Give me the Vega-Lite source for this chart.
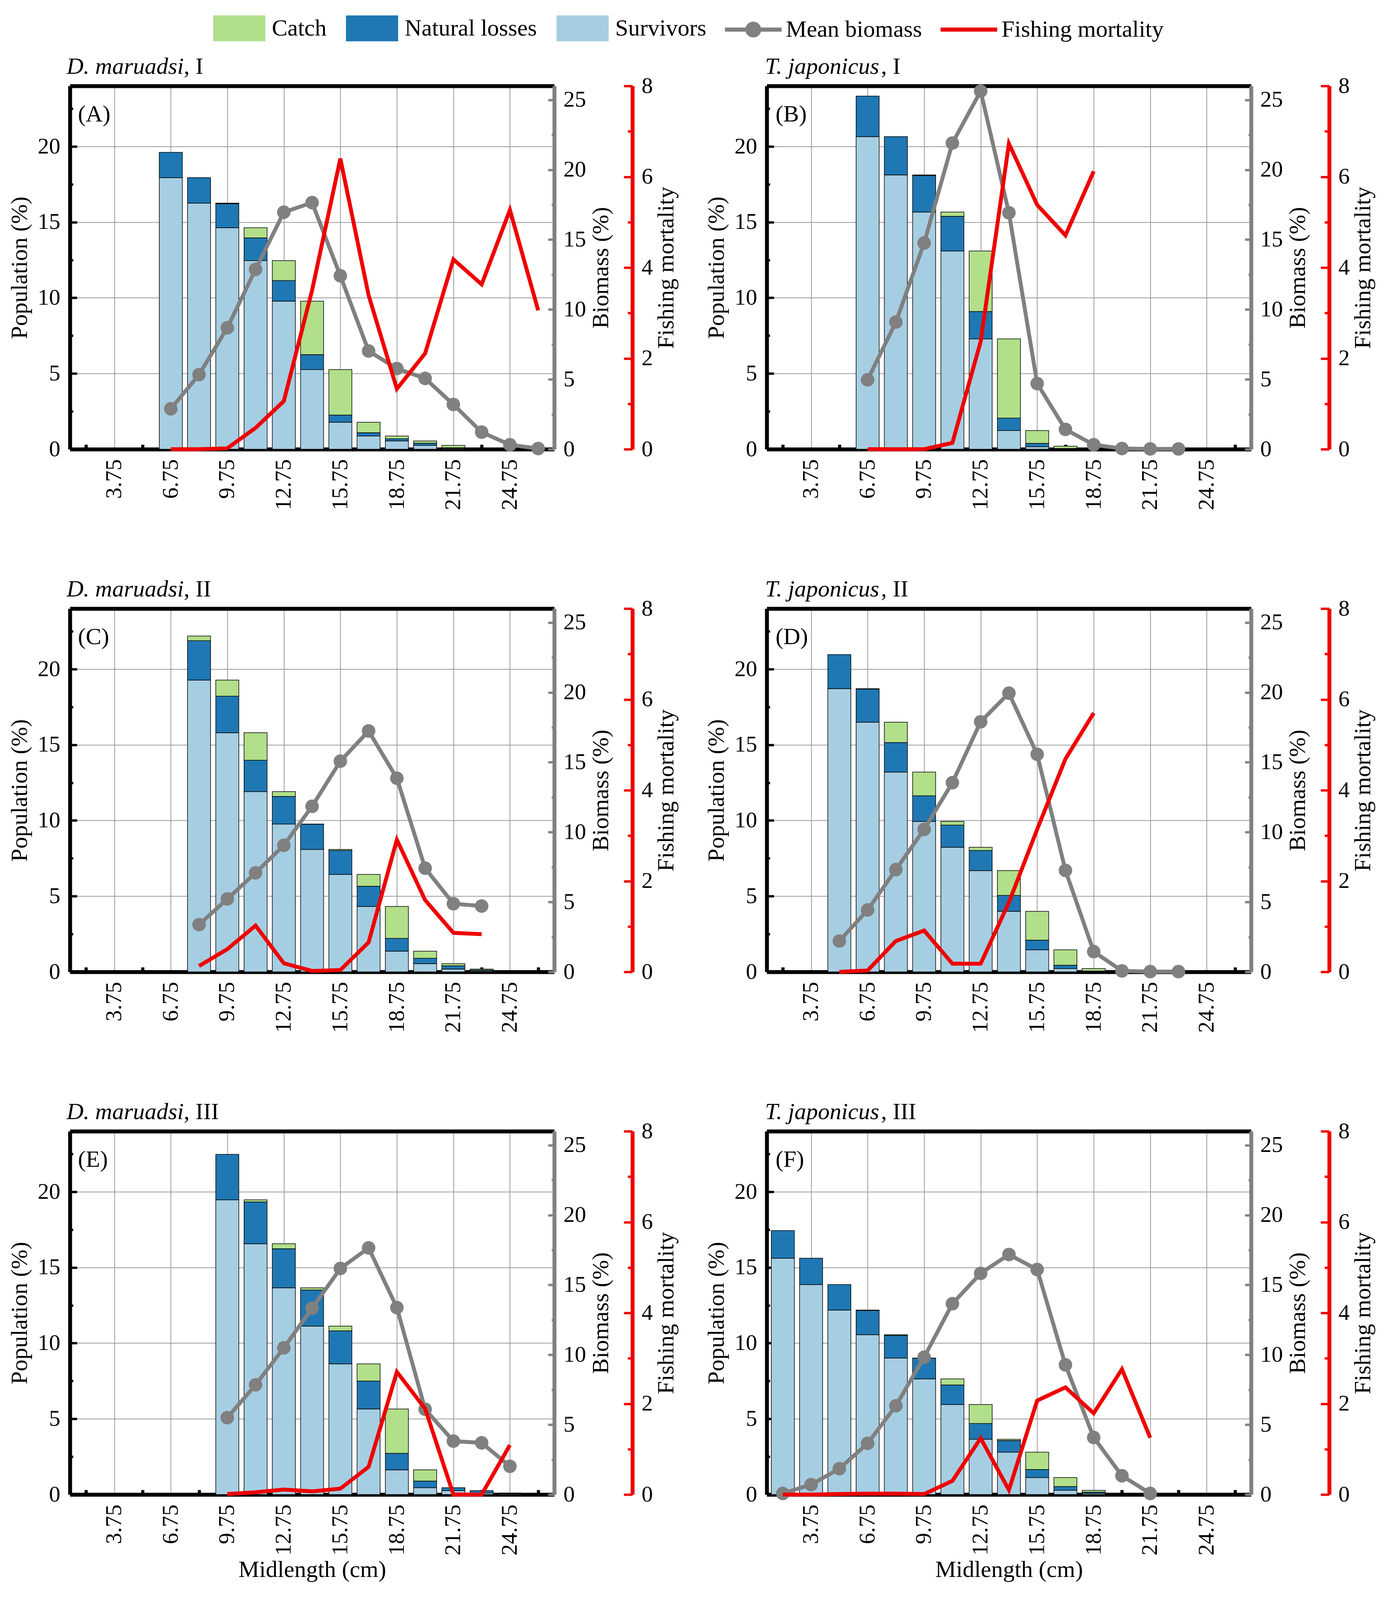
{
  "$schema": "https://vega.github.io/schema/vega-lite/v6.json",
  "background": "white",
  "padding": {"left": 20, "top": 0, "right": 5, "bottom": 5},
  "data": {
    "values": [
      {"p": "A", "L": 6.75, "Survivors": 17.94, "Natural losses": 1.67, "Catch": 0, "bio": 2.89, "F": 0},
      {"p": "A", "L": 8.25, "Survivors": 16.26, "Natural losses": 1.68, "Catch": 0, "bio": 5.34, "F": 0},
      {"p": "A", "L": 9.75, "Survivors": 14.63, "Natural losses": 1.59, "Catch": 0.04, "bio": 8.69, "F": 0.02},
      {"p": "A", "L": 11.25, "Survivors": 12.46, "Natural losses": 1.5, "Catch": 0.67, "bio": 12.87, "F": 0.47},
      {"p": "A", "L": 12.75, "Survivors": 9.78, "Natural losses": 1.36, "Catch": 1.32, "bio": 16.96, "F": 1.06},
      {"p": "A", "L": 14.25, "Survivors": 5.26, "Natural losses": 0.99, "Catch": 3.53, "bio": 17.65, "F": 3.5},
      {"p": "A", "L": 15.75, "Survivors": 1.78, "Natural losses": 0.48, "Catch": 3.0, "bio": 12.41, "F": 6.4},
      {"p": "A", "L": 17.25, "Survivors": 0.87, "Natural losses": 0.22, "Catch": 0.69, "bio": 7.03, "F": 3.39},
      {"p": "A", "L": 18.75, "Survivors": 0.55, "Natural losses": 0.14, "Catch": 0.18, "bio": 5.77, "F": 1.33},
      {"p": "A", "L": 20.25, "Survivors": 0.25, "Natural losses": 0.15, "Catch": 0.15, "bio": 5.07, "F": 2.11},
      {"p": "A", "L": 21.75, "Survivors": 0.06, "Natural losses": 0.04, "Catch": 0.15, "bio": 3.2, "F": 4.18},
      {"p": "A", "L": 23.25, "bio": 1.22, "F": 3.63},
      {"p": "A", "L": 24.75, "bio": 0.32, "F": 5.27},
      {"p": "A", "L": 26.25, "bio": 0.05, "F": 3.06},
      {"p": "B", "L": 6.75, "Survivors": 20.65, "Natural losses": 2.68, "Catch": 0, "bio": 4.97, "F": 0},
      {"p": "B", "L": 8.25, "Survivors": 18.12, "Natural losses": 2.53, "Catch": 0, "bio": 9.1, "F": 0},
      {"p": "B", "L": 9.75, "Survivors": 15.67, "Natural losses": 2.41, "Catch": 0.04, "bio": 14.76, "F": 0},
      {"p": "B", "L": 11.25, "Survivors": 13.1, "Natural losses": 2.29, "Catch": 0.28, "bio": 21.91, "F": 0.14},
      {"p": "B", "L": 12.75, "Survivors": 7.29, "Natural losses": 1.81, "Catch": 4.0, "bio": 25.63, "F": 2.37},
      {"p": "B", "L": 14.25, "Survivors": 1.23, "Natural losses": 0.83, "Catch": 5.23, "bio": 16.92, "F": 6.73},
      {"p": "B", "L": 15.75, "Survivors": 0.17, "Natural losses": 0.22, "Catch": 0.84, "bio": 4.7, "F": 5.38},
      {"p": "B", "L": 17.25, "Survivors": 0.02, "Natural losses": 0.03, "Catch": 0.15, "bio": 1.42, "F": 4.71},
      {"p": "B", "L": 18.75, "bio": 0.32, "F": 6.12},
      {"p": "B", "L": 20.25, "bio": 0.05},
      {"p": "B", "L": 21.75, "bio": 0.02},
      {"p": "B", "L": 23.25, "bio": 0.02},
      {"p": "C", "L": 8.25, "Survivors": 19.28, "Natural losses": 2.6, "Catch": 0.31, "bio": 3.38, "F": 0.13},
      {"p": "C", "L": 9.75, "Survivors": 15.8, "Natural losses": 2.41, "Catch": 1.07, "bio": 5.22, "F": 0.5},
      {"p": "C", "L": 11.25, "Survivors": 11.91, "Natural losses": 2.07, "Catch": 1.82, "bio": 7.09, "F": 1.02},
      {"p": "C", "L": 12.75, "Survivors": 9.77, "Natural losses": 1.82, "Catch": 0.32, "bio": 9.06, "F": 0.19},
      {"p": "C", "L": 14.25, "Survivors": 8.09, "Natural losses": 1.66, "Catch": 0.02, "bio": 11.85, "F": 0.02},
      {"p": "C", "L": 15.75, "Survivors": 6.44, "Natural losses": 1.58, "Catch": 0.07, "bio": 15.08, "F": 0.04},
      {"p": "C", "L": 17.25, "Survivors": 4.32, "Natural losses": 1.34, "Catch": 0.78, "bio": 17.24, "F": 0.65},
      {"p": "C", "L": 18.75, "Survivors": 1.37, "Natural losses": 0.84, "Catch": 2.11, "bio": 13.86, "F": 2.91},
      {"p": "C", "L": 20.25, "Survivors": 0.54, "Natural losses": 0.36, "Catch": 0.47, "bio": 7.42, "F": 1.58},
      {"p": "C", "L": 21.75, "Survivors": 0.19, "Natural losses": 0.21, "Catch": 0.14, "bio": 4.88, "F": 0.86},
      {"p": "C", "L": 23.25, "Survivors": 0.06, "Natural losses": 0.06, "Catch": 0.07, "bio": 4.71, "F": 0.83},
      {"p": "D", "L": 5.25, "Survivors": 18.71, "Natural losses": 2.25, "Catch": 0, "bio": 2.21, "F": 0},
      {"p": "D", "L": 6.75, "Survivors": 16.5, "Natural losses": 2.18, "Catch": 0.03, "bio": 4.43, "F": 0.03},
      {"p": "D", "L": 8.25, "Survivors": 13.2, "Natural losses": 1.95, "Catch": 1.35, "bio": 7.32, "F": 0.68},
      {"p": "D", "L": 9.75, "Survivors": 9.94, "Natural losses": 1.69, "Catch": 1.57, "bio": 10.2, "F": 0.91},
      {"p": "D", "L": 11.25, "Survivors": 8.23, "Natural losses": 1.47, "Catch": 0.24, "bio": 13.54, "F": 0.18},
      {"p": "D", "L": 12.75, "Survivors": 6.69, "Natural losses": 1.33, "Catch": 0.21, "bio": 17.9, "F": 0.18},
      {"p": "D", "L": 14.25, "Survivors": 4.0, "Natural losses": 1.05, "Catch": 1.64, "bio": 19.95, "F": 1.53},
      {"p": "D", "L": 15.75, "Survivors": 1.46, "Natural losses": 0.64, "Catch": 1.9, "bio": 15.57, "F": 3.14},
      {"p": "D", "L": 17.25, "Survivors": 0.22, "Natural losses": 0.22, "Catch": 1.02, "bio": 7.26, "F": 4.69},
      {"p": "D", "L": 18.75, "Survivors": 0.03, "Natural losses": 0.03, "Catch": 0.16, "bio": 1.45, "F": 5.7},
      {"p": "D", "L": 20.25, "bio": 0.07},
      {"p": "D", "L": 21.75, "bio": 0.02},
      {"p": "D", "L": 23.25, "bio": 0.02},
      {"p": "E", "L": 9.75, "Survivors": 19.47, "Natural losses": 3.0, "Catch": 0, "bio": 5.5, "F": 0.01},
      {"p": "E", "L": 11.25, "Survivors": 16.57, "Natural losses": 2.76, "Catch": 0.14, "bio": 7.85, "F": 0.05},
      {"p": "E", "L": 12.75, "Survivors": 13.66, "Natural losses": 2.58, "Catch": 0.33, "bio": 10.5, "F": 0.11},
      {"p": "E", "L": 14.25, "Survivors": 11.13, "Natural losses": 2.38, "Catch": 0.15, "bio": 13.33, "F": 0.07},
      {"p": "E", "L": 15.75, "Survivors": 8.63, "Natural losses": 2.18, "Catch": 0.32, "bio": 16.18, "F": 0.13},
      {"p": "E", "L": 17.25, "Survivors": 5.65, "Natural losses": 1.85, "Catch": 1.13, "bio": 17.65, "F": 0.61},
      {"p": "E", "L": 18.75, "Survivors": 1.63, "Natural losses": 1.09, "Catch": 2.93, "bio": 13.38, "F": 2.7},
      {"p": "E", "L": 20.25, "Survivors": 0.45, "Natural losses": 0.44, "Catch": 0.74, "bio": 6.1, "F": 1.89},
      {"p": "E", "L": 21.75, "Survivors": 0.26, "Natural losses": 0.19, "Catch": 0, "bio": 3.82, "F": 0},
      {"p": "E", "L": 23.25, "Survivors": 0.1, "Natural losses": 0.16, "Catch": 0, "bio": 3.7, "F": 0},
      {"p": "E", "L": 24.75, "Survivors": 0.05, "Natural losses": 0.02, "Catch": 0.03, "bio": 2.02, "F": 1.09},
      {"p": "F", "L": 2.25, "Survivors": 15.61, "Natural losses": 1.83, "Catch": 0, "bio": 0.08, "F": 0},
      {"p": "F", "L": 3.75, "Survivors": 13.87, "Natural losses": 1.74, "Catch": 0, "bio": 0.71, "F": 0},
      {"p": "F", "L": 5.25, "Survivors": 12.19, "Natural losses": 1.68, "Catch": 0, "bio": 1.85, "F": 0.01},
      {"p": "F", "L": 6.75, "Survivors": 10.56, "Natural losses": 1.6, "Catch": 0.03, "bio": 3.66, "F": 0.02},
      {"p": "F", "L": 8.25, "Survivors": 9.02, "Natural losses": 1.49, "Catch": 0.05, "bio": 6.35, "F": 0.02},
      {"p": "F", "L": 9.75, "Survivors": 7.64, "Natural losses": 1.37, "Catch": 0.01, "bio": 9.83, "F": 0.01},
      {"p": "F", "L": 11.25, "Survivors": 5.95, "Natural losses": 1.29, "Catch": 0.4, "bio": 13.66, "F": 0.3},
      {"p": "F", "L": 12.75, "Survivors": 3.65, "Natural losses": 1.04, "Catch": 1.26, "bio": 15.83, "F": 1.24},
      {"p": "F", "L": 14.25, "Survivors": 2.8, "Natural losses": 0.77, "Catch": 0.08, "bio": 17.18, "F": 0.1},
      {"p": "F", "L": 15.75, "Survivors": 1.12, "Natural losses": 0.53, "Catch": 1.15, "bio": 16.1, "F": 2.07},
      {"p": "F", "L": 17.25, "Survivors": 0.28, "Natural losses": 0.25, "Catch": 0.59, "bio": 9.28, "F": 2.36},
      {"p": "F", "L": 18.75, "Survivors": 0.08, "Natural losses": 0.08, "Catch": 0.12, "bio": 4.08, "F": 1.79},
      {"p": "F", "L": 20.25, "bio": 1.34, "F": 2.76},
      {"p": "F", "L": 21.75, "bio": 0.08, "F": 1.25}
    ]
  },
  "columns": 2,
  "bounds": "flush",
  "spacing": {"row": 408, "column": 544},
  "concat": [
    {
      "width": 1240, "height": 930,
      "transform": [{"filter": "datum.p === 'A'"}],
      "layer": [
        {
          "transform": [{"fold": ["Survivors", "Natural losses", "Catch"], "as": ["part", "pct"]}, {"filter": "isValid(datum.pct) && datum.pct > 0"}],
          "mark": {"type": "bar", "width": 59, "stroke": "black", "strokeWidth": 1.5},
          "encoding": {
            "x": {"field": "L", "type": "quantitative", "scale": {"domain": [1.5, 27], "nice": false, "zero": false}, "axis": {"values": [2.25, 3.75, 5.25, 6.75, 8.25, 9.75, 11.25, 12.75, 14.25, 15.75, 17.25, 18.75, 20.25, 21.75, 23.25, 24.75, 26.25], "labelExpr": "(datum.value - 0.75) % 3 === 0 ? format(datum.value, '.2f') : ''", "labelAngle": 270, "labelPadding": 37, "domainColor": "black", "domainWidth": 10, "tickColor": "black", "tickWidth": 8, "tickSize": -12, "tickOpacity": {"condition": {"test": "(datum.value - 0.75) % 3 === 0", "value": 0}, "value": 1}, "grid": true, "gridColor": "#9a9a9a", "gridWidth": 2, "gridOpacity": {"condition": {"test": "(datum.value - 0.75) % 3 === 0", "value": 1}, "value": 0}, "title": null}},
            "y": {"field": "pct", "type": "quantitative", "stack": "zero", "scale": {"domain": [0, 24], "nice": false}, "axis": {"values": [0, 2.5, 5, 7.5, 10, 12.5, 15, 17.5, 20, 22.5], "labelExpr": "datum.value % 5 === 0 ? format(datum.value, 'd') : ''", "labelPadding": 43, "domainColor": "black", "domainWidth": 10, "tickColor": "black", "tickWidth": 6, "tickSize": {"condition": {"test": "datum.value % 5 === 0", "value": -18}, "value": -8}, "grid": true, "gridColor": "#9a9a9a", "gridWidth": 2, "gridOpacity": {"condition": {"test": "datum.value % 5 === 0 && datum.value > 0", "value": 1}, "value": 0}, "title": "Population (%)", "titlePadding": 15}},
            "color": {
              "field": "part", "type": "nominal",
              "scale": {"domain": ["Catch", "Natural losses", "Survivors", "Mean biomass", "Fishing mortality"], "range": ["#b2df8a", "#1f78b4", "#a6cee3", "#808080", "#ee0000"]},
              "legend": {
                "title": null,
                "encoding": {
                  "symbols": {
                    "shape": {"value": {"expr": "datum.value === 'Mean biomass' ? 'M-1,-0.06H1V0.06H-1ZM-0.27,0A0.27,0.27,0,1,1,0.27,0A0.27,0.27,0,1,1,-0.27,0Z' : datum.value === 'Fishing mortality' ? 'M-1,-0.06H1V0.06H-1Z' : 'M-0.92,-0.45H0.92V0.45H-0.92Z'"}},
                    "fill": {"value": {"expr": "datum.value === 'Catch' ? '#b2df8a' : datum.value === 'Natural losses' ? '#1f78b4' : datum.value === 'Survivors' ? '#a6cee3' : datum.value === 'Mean biomass' ? '#808080' : '#ee0000'"}},
                    "stroke": {"value": {"expr": "datum.value === 'Mean biomass' ? '#808080' : datum.value === 'Fishing mortality' ? '#ee0000' : 'black'"}}
                  }
                }
              }
            },
            "order": {"field": "part", "type": "nominal", "sort": "descending"}
          }
        },
        {
          "transform": [{"filter": "isValid(datum.bio)"}],
          "mark": {"type": "line", "strokeWidth": 10},
          "encoding": {
            "x": {"field": "L", "type": "quantitative", "axis": {"orient": "top", "domain": true, "domainColor": "black", "domainWidth": 10, "ticks": false, "labels": false, "grid": false, "title": "D. maruadsi", "titleFontStyle": "italic", "titleX": -9, "titleY": -32, "titleAlign": "left", "titleBaseline": "alphabetic", "titleAngle": 0}},
            "y": {"field": "bio", "type": "quantitative", "scale": {"domain": [0, 26], "nice": false}, "axis": {"orient": "right", "values": [0, 2.5, 5, 7.5, 10, 12.5, 15, 17.5, 20, 22.5, 25], "labelExpr": "datum.value % 5 === 0 ? format(datum.value, 'd') : ''", "labelPadding": 39, "domainColor": "#808080", "domainWidth": 10, "tickColor": "#808080", "tickWidth": 6, "tickSize": {"condition": {"test": "datum.value % 5 === 0", "value": -16}, "value": -7}, "grid": false, "title": "Biomass (%)", "titleAngle": 270, "titleBaseline": "top", "titlePadding": 9}},
            "color": {"datum": "Mean biomass", "type": "nominal"}
          }
        },
        {
          "transform": [{"filter": "isValid(datum.bio)"}],
          "mark": {"type": "circle", "size": 1200, "opacity": 1},
          "encoding": {
            "x": {"field": "L", "type": "quantitative", "axis": {"orient": "top", "domain": false, "ticks": false, "labels": false, "grid": false, "title": ", I", "titleX": 291, "titleY": -32, "titleAlign": "left", "titleBaseline": "alphabetic", "titleAngle": 0}},
            "y": {"field": "bio", "type": "quantitative", "scale": {"domain": [0, 26], "nice": false}, "axis": null},
            "color": {"datum": "Mean biomass", "type": "nominal"}
          }
        },
        {
          "transform": [{"filter": "isValid(datum.F)"}],
          "mark": {"type": "line", "strokeWidth": 10},
          "encoding": {
            "x": {"field": "L", "type": "quantitative", "axis": {"orient": "top", "domain": false, "ticks": false, "labels": false, "grid": false, "title": "(A)", "titleX": 20, "titleY": 90, "titleAlign": "left", "titleBaseline": "alphabetic", "titleAngle": 0}},
            "y": {"field": "F", "type": "quantitative", "scale": {"domain": [0, 8], "nice": false}, "axis": {"orient": "right", "offset": 200, "values": [0, 1, 2, 3, 4, 5, 6, 7, 8], "labelExpr": "datum.value % 2 === 0 ? format(datum.value, 'd') : ''", "labelPadding": 45, "domainColor": "#ee0000", "domainWidth": 10, "tickColor": "#ee0000", "tickWidth": 6, "tickSize": {"condition": {"test": "datum.value % 2 === 0", "value": -22}, "value": -12}, "grid": false, "title": "Fishing mortality", "titleAngle": 270, "titleBaseline": "top", "titlePadding": 5}},
            "color": {"datum": "Fishing mortality", "type": "nominal"}
          }
        }
      ],
      "resolve": {"scale": {"y": "independent"}, "axis": {"x": "independent"}}
    },
    {
      "width": 1240, "height": 930,
      "transform": [{"filter": "datum.p === 'B'"}],
      "layer": [
        {
          "transform": [{"fold": ["Survivors", "Natural losses", "Catch"], "as": ["part", "pct"]}, {"filter": "isValid(datum.pct) && datum.pct > 0"}],
          "mark": {"type": "bar", "width": 59, "stroke": "black", "strokeWidth": 1.5},
          "encoding": {
            "x": {"field": "L", "type": "quantitative", "scale": {"domain": [1.5, 27], "nice": false, "zero": false}, "axis": {"values": [2.25, 3.75, 5.25, 6.75, 8.25, 9.75, 11.25, 12.75, 14.25, 15.75, 17.25, 18.75, 20.25, 21.75, 23.25, 24.75, 26.25], "labelExpr": "(datum.value - 0.75) % 3 === 0 ? format(datum.value, '.2f') : ''", "labelAngle": 270, "labelPadding": 37, "domainColor": "black", "domainWidth": 10, "tickColor": "black", "tickWidth": 8, "tickSize": -12, "tickOpacity": {"condition": {"test": "(datum.value - 0.75) % 3 === 0", "value": 0}, "value": 1}, "grid": true, "gridColor": "#9a9a9a", "gridWidth": 2, "gridOpacity": {"condition": {"test": "(datum.value - 0.75) % 3 === 0", "value": 1}, "value": 0}, "title": null}},
            "y": {"field": "pct", "type": "quantitative", "stack": "zero", "scale": {"domain": [0, 24], "nice": false}, "axis": {"values": [0, 2.5, 5, 7.5, 10, 12.5, 15, 17.5, 20, 22.5], "labelExpr": "datum.value % 5 === 0 ? format(datum.value, 'd') : ''", "labelPadding": 43, "domainColor": "black", "domainWidth": 10, "tickColor": "black", "tickWidth": 6, "tickSize": {"condition": {"test": "datum.value % 5 === 0", "value": -18}, "value": -8}, "grid": true, "gridColor": "#9a9a9a", "gridWidth": 2, "gridOpacity": {"condition": {"test": "datum.value % 5 === 0 && datum.value > 0", "value": 1}, "value": 0}, "title": "Population (%)", "titlePadding": 15}},
            "color": {"field": "part", "type": "nominal"},
            "order": {"field": "part", "type": "nominal", "sort": "descending"}
          }
        },
        {
          "transform": [{"filter": "isValid(datum.bio)"}],
          "mark": {"type": "line", "strokeWidth": 10},
          "encoding": {
            "x": {"field": "L", "type": "quantitative", "axis": {"orient": "top", "domain": true, "domainColor": "black", "domainWidth": 10, "ticks": false, "labels": false, "grid": false, "title": "T. japonicus", "titleFontStyle": "italic", "titleX": -5, "titleY": -32, "titleAlign": "left", "titleBaseline": "alphabetic", "titleAngle": 0}},
            "y": {"field": "bio", "type": "quantitative", "scale": {"domain": [0, 26], "nice": false}, "axis": {"orient": "right", "values": [0, 2.5, 5, 7.5, 10, 12.5, 15, 17.5, 20, 22.5, 25], "labelExpr": "datum.value % 5 === 0 ? format(datum.value, 'd') : ''", "labelPadding": 39, "domainColor": "#808080", "domainWidth": 10, "tickColor": "#808080", "tickWidth": 6, "tickSize": {"condition": {"test": "datum.value % 5 === 0", "value": -16}, "value": -7}, "grid": false, "title": "Biomass (%)", "titleAngle": 270, "titleBaseline": "top", "titlePadding": 9}},
            "color": {"datum": "Mean biomass", "type": "nominal"}
          }
        },
        {
          "transform": [{"filter": "isValid(datum.bio)"}],
          "mark": {"type": "circle", "size": 1200, "opacity": 1},
          "encoding": {
            "x": {"field": "L", "type": "quantitative", "axis": {"orient": "top", "domain": false, "ticks": false, "labels": false, "grid": false, "title": ", I", "titleX": 292, "titleY": -32, "titleAlign": "left", "titleBaseline": "alphabetic", "titleAngle": 0}},
            "y": {"field": "bio", "type": "quantitative", "scale": {"domain": [0, 26], "nice": false}, "axis": null},
            "color": {"datum": "Mean biomass", "type": "nominal"}
          }
        },
        {
          "transform": [{"filter": "isValid(datum.F)"}],
          "mark": {"type": "line", "strokeWidth": 10},
          "encoding": {
            "x": {"field": "L", "type": "quantitative", "axis": {"orient": "top", "domain": false, "ticks": false, "labels": false, "grid": false, "title": "(B)", "titleX": 22, "titleY": 90, "titleAlign": "left", "titleBaseline": "alphabetic", "titleAngle": 0}},
            "y": {"field": "F", "type": "quantitative", "scale": {"domain": [0, 8], "nice": false}, "axis": {"orient": "right", "offset": 200, "values": [0, 1, 2, 3, 4, 5, 6, 7, 8], "labelExpr": "datum.value % 2 === 0 ? format(datum.value, 'd') : ''", "labelPadding": 45, "domainColor": "#ee0000", "domainWidth": 10, "tickColor": "#ee0000", "tickWidth": 6, "tickSize": {"condition": {"test": "datum.value % 2 === 0", "value": -22}, "value": -12}, "grid": false, "title": "Fishing mortality", "titleAngle": 270, "titleBaseline": "top", "titlePadding": 5}},
            "color": {"datum": "Fishing mortality", "type": "nominal"}
          }
        }
      ],
      "resolve": {"scale": {"y": "independent"}, "axis": {"x": "independent"}}
    },
    {
      "width": 1240, "height": 930,
      "transform": [{"filter": "datum.p === 'C'"}],
      "layer": [
        {
          "transform": [{"fold": ["Survivors", "Natural losses", "Catch"], "as": ["part", "pct"]}, {"filter": "isValid(datum.pct) && datum.pct > 0"}],
          "mark": {"type": "bar", "width": 59, "stroke": "black", "strokeWidth": 1.5},
          "encoding": {
            "x": {"field": "L", "type": "quantitative", "scale": {"domain": [1.5, 27], "nice": false, "zero": false}, "axis": {"values": [2.25, 3.75, 5.25, 6.75, 8.25, 9.75, 11.25, 12.75, 14.25, 15.75, 17.25, 18.75, 20.25, 21.75, 23.25, 24.75, 26.25], "labelExpr": "(datum.value - 0.75) % 3 === 0 ? format(datum.value, '.2f') : ''", "labelAngle": 270, "labelPadding": 37, "domainColor": "black", "domainWidth": 10, "tickColor": "black", "tickWidth": 8, "tickSize": -12, "tickOpacity": {"condition": {"test": "(datum.value - 0.75) % 3 === 0", "value": 0}, "value": 1}, "grid": true, "gridColor": "#9a9a9a", "gridWidth": 2, "gridOpacity": {"condition": {"test": "(datum.value - 0.75) % 3 === 0", "value": 1}, "value": 0}, "title": null}},
            "y": {"field": "pct", "type": "quantitative", "stack": "zero", "scale": {"domain": [0, 24], "nice": false}, "axis": {"values": [0, 2.5, 5, 7.5, 10, 12.5, 15, 17.5, 20, 22.5], "labelExpr": "datum.value % 5 === 0 ? format(datum.value, 'd') : ''", "labelPadding": 43, "domainColor": "black", "domainWidth": 10, "tickColor": "black", "tickWidth": 6, "tickSize": {"condition": {"test": "datum.value % 5 === 0", "value": -18}, "value": -8}, "grid": true, "gridColor": "#9a9a9a", "gridWidth": 2, "gridOpacity": {"condition": {"test": "datum.value % 5 === 0 && datum.value > 0", "value": 1}, "value": 0}, "title": "Population (%)", "titlePadding": 15}},
            "color": {"field": "part", "type": "nominal"},
            "order": {"field": "part", "type": "nominal", "sort": "descending"}
          }
        },
        {
          "transform": [{"filter": "isValid(datum.bio)"}],
          "mark": {"type": "line", "strokeWidth": 10},
          "encoding": {
            "x": {"field": "L", "type": "quantitative", "axis": {"orient": "top", "domain": true, "domainColor": "black", "domainWidth": 10, "ticks": false, "labels": false, "grid": false, "title": "D. maruadsi", "titleFontStyle": "italic", "titleX": -9, "titleY": -32, "titleAlign": "left", "titleBaseline": "alphabetic", "titleAngle": 0}},
            "y": {"field": "bio", "type": "quantitative", "scale": {"domain": [0, 26], "nice": false}, "axis": {"orient": "right", "values": [0, 2.5, 5, 7.5, 10, 12.5, 15, 17.5, 20, 22.5, 25], "labelExpr": "datum.value % 5 === 0 ? format(datum.value, 'd') : ''", "labelPadding": 39, "domainColor": "#808080", "domainWidth": 10, "tickColor": "#808080", "tickWidth": 6, "tickSize": {"condition": {"test": "datum.value % 5 === 0", "value": -16}, "value": -7}, "grid": false, "title": "Biomass (%)", "titleAngle": 270, "titleBaseline": "top", "titlePadding": 9}},
            "color": {"datum": "Mean biomass", "type": "nominal"}
          }
        },
        {
          "transform": [{"filter": "isValid(datum.bio)"}],
          "mark": {"type": "circle", "size": 1200, "opacity": 1},
          "encoding": {
            "x": {"field": "L", "type": "quantitative", "axis": {"orient": "top", "domain": false, "ticks": false, "labels": false, "grid": false, "title": ", II", "titleX": 291, "titleY": -32, "titleAlign": "left", "titleBaseline": "alphabetic", "titleAngle": 0}},
            "y": {"field": "bio", "type": "quantitative", "scale": {"domain": [0, 26], "nice": false}, "axis": null},
            "color": {"datum": "Mean biomass", "type": "nominal"}
          }
        },
        {
          "transform": [{"filter": "isValid(datum.F)"}],
          "mark": {"type": "line", "strokeWidth": 10},
          "encoding": {
            "x": {"field": "L", "type": "quantitative", "axis": {"orient": "top", "domain": false, "ticks": false, "labels": false, "grid": false, "title": "(C)", "titleX": 20, "titleY": 90, "titleAlign": "left", "titleBaseline": "alphabetic", "titleAngle": 0}},
            "y": {"field": "F", "type": "quantitative", "scale": {"domain": [0, 8], "nice": false}, "axis": {"orient": "right", "offset": 200, "values": [0, 1, 2, 3, 4, 5, 6, 7, 8], "labelExpr": "datum.value % 2 === 0 ? format(datum.value, 'd') : ''", "labelPadding": 45, "domainColor": "#ee0000", "domainWidth": 10, "tickColor": "#ee0000", "tickWidth": 6, "tickSize": {"condition": {"test": "datum.value % 2 === 0", "value": -22}, "value": -12}, "grid": false, "title": "Fishing mortality", "titleAngle": 270, "titleBaseline": "top", "titlePadding": 5}},
            "color": {"datum": "Fishing mortality", "type": "nominal"}
          }
        }
      ],
      "resolve": {"scale": {"y": "independent"}, "axis": {"x": "independent"}}
    },
    {
      "width": 1240, "height": 930,
      "transform": [{"filter": "datum.p === 'D'"}],
      "layer": [
        {
          "transform": [{"fold": ["Survivors", "Natural losses", "Catch"], "as": ["part", "pct"]}, {"filter": "isValid(datum.pct) && datum.pct > 0"}],
          "mark": {"type": "bar", "width": 59, "stroke": "black", "strokeWidth": 1.5},
          "encoding": {
            "x": {"field": "L", "type": "quantitative", "scale": {"domain": [1.5, 27], "nice": false, "zero": false}, "axis": {"values": [2.25, 3.75, 5.25, 6.75, 8.25, 9.75, 11.25, 12.75, 14.25, 15.75, 17.25, 18.75, 20.25, 21.75, 23.25, 24.75, 26.25], "labelExpr": "(datum.value - 0.75) % 3 === 0 ? format(datum.value, '.2f') : ''", "labelAngle": 270, "labelPadding": 37, "domainColor": "black", "domainWidth": 10, "tickColor": "black", "tickWidth": 8, "tickSize": -12, "tickOpacity": {"condition": {"test": "(datum.value - 0.75) % 3 === 0", "value": 0}, "value": 1}, "grid": true, "gridColor": "#9a9a9a", "gridWidth": 2, "gridOpacity": {"condition": {"test": "(datum.value - 0.75) % 3 === 0", "value": 1}, "value": 0}, "title": null}},
            "y": {"field": "pct", "type": "quantitative", "stack": "zero", "scale": {"domain": [0, 24], "nice": false}, "axis": {"values": [0, 2.5, 5, 7.5, 10, 12.5, 15, 17.5, 20, 22.5], "labelExpr": "datum.value % 5 === 0 ? format(datum.value, 'd') : ''", "labelPadding": 43, "domainColor": "black", "domainWidth": 10, "tickColor": "black", "tickWidth": 6, "tickSize": {"condition": {"test": "datum.value % 5 === 0", "value": -18}, "value": -8}, "grid": true, "gridColor": "#9a9a9a", "gridWidth": 2, "gridOpacity": {"condition": {"test": "datum.value % 5 === 0 && datum.value > 0", "value": 1}, "value": 0}, "title": "Population (%)", "titlePadding": 15}},
            "color": {"field": "part", "type": "nominal"},
            "order": {"field": "part", "type": "nominal", "sort": "descending"}
          }
        },
        {
          "transform": [{"filter": "isValid(datum.bio)"}],
          "mark": {"type": "line", "strokeWidth": 10},
          "encoding": {
            "x": {"field": "L", "type": "quantitative", "axis": {"orient": "top", "domain": true, "domainColor": "black", "domainWidth": 10, "ticks": false, "labels": false, "grid": false, "title": "T. japonicus", "titleFontStyle": "italic", "titleX": -5, "titleY": -32, "titleAlign": "left", "titleBaseline": "alphabetic", "titleAngle": 0}},
            "y": {"field": "bio", "type": "quantitative", "scale": {"domain": [0, 26], "nice": false}, "axis": {"orient": "right", "values": [0, 2.5, 5, 7.5, 10, 12.5, 15, 17.5, 20, 22.5, 25], "labelExpr": "datum.value % 5 === 0 ? format(datum.value, 'd') : ''", "labelPadding": 39, "domainColor": "#808080", "domainWidth": 10, "tickColor": "#808080", "tickWidth": 6, "tickSize": {"condition": {"test": "datum.value % 5 === 0", "value": -16}, "value": -7}, "grid": false, "title": "Biomass (%)", "titleAngle": 270, "titleBaseline": "top", "titlePadding": 9}},
            "color": {"datum": "Mean biomass", "type": "nominal"}
          }
        },
        {
          "transform": [{"filter": "isValid(datum.bio)"}],
          "mark": {"type": "circle", "size": 1200, "opacity": 1},
          "encoding": {
            "x": {"field": "L", "type": "quantitative", "axis": {"orient": "top", "domain": false, "ticks": false, "labels": false, "grid": false, "title": ", II", "titleX": 292, "titleY": -32, "titleAlign": "left", "titleBaseline": "alphabetic", "titleAngle": 0}},
            "y": {"field": "bio", "type": "quantitative", "scale": {"domain": [0, 26], "nice": false}, "axis": null},
            "color": {"datum": "Mean biomass", "type": "nominal"}
          }
        },
        {
          "transform": [{"filter": "isValid(datum.F)"}],
          "mark": {"type": "line", "strokeWidth": 10},
          "encoding": {
            "x": {"field": "L", "type": "quantitative", "axis": {"orient": "top", "domain": false, "ticks": false, "labels": false, "grid": false, "title": "(D)", "titleX": 22, "titleY": 90, "titleAlign": "left", "titleBaseline": "alphabetic", "titleAngle": 0}},
            "y": {"field": "F", "type": "quantitative", "scale": {"domain": [0, 8], "nice": false}, "axis": {"orient": "right", "offset": 200, "values": [0, 1, 2, 3, 4, 5, 6, 7, 8], "labelExpr": "datum.value % 2 === 0 ? format(datum.value, 'd') : ''", "labelPadding": 45, "domainColor": "#ee0000", "domainWidth": 10, "tickColor": "#ee0000", "tickWidth": 6, "tickSize": {"condition": {"test": "datum.value % 2 === 0", "value": -22}, "value": -12}, "grid": false, "title": "Fishing mortality", "titleAngle": 270, "titleBaseline": "top", "titlePadding": 5}},
            "color": {"datum": "Fishing mortality", "type": "nominal"}
          }
        }
      ],
      "resolve": {"scale": {"y": "independent"}, "axis": {"x": "independent"}}
    },
    {
      "width": 1240, "height": 930,
      "transform": [{"filter": "datum.p === 'E'"}],
      "layer": [
        {
          "transform": [{"fold": ["Survivors", "Natural losses", "Catch"], "as": ["part", "pct"]}, {"filter": "isValid(datum.pct) && datum.pct > 0"}],
          "mark": {"type": "bar", "width": 59, "stroke": "black", "strokeWidth": 1.5},
          "encoding": {
            "x": {"field": "L", "type": "quantitative", "scale": {"domain": [1.5, 27], "nice": false, "zero": false}, "axis": {"values": [2.25, 3.75, 5.25, 6.75, 8.25, 9.75, 11.25, 12.75, 14.25, 15.75, 17.25, 18.75, 20.25, 21.75, 23.25, 24.75, 26.25], "labelExpr": "(datum.value - 0.75) % 3 === 0 ? format(datum.value, '.2f') : ''", "labelAngle": 270, "labelPadding": 37, "domainColor": "black", "domainWidth": 10, "tickColor": "black", "tickWidth": 8, "tickSize": -12, "tickOpacity": {"condition": {"test": "(datum.value - 0.75) % 3 === 0", "value": 0}, "value": 1}, "grid": true, "gridColor": "#9a9a9a", "gridWidth": 2, "gridOpacity": {"condition": {"test": "(datum.value - 0.75) % 3 === 0", "value": 1}, "value": 0}, "title": "Midlength (cm)", "titlePadding": 8}},
            "y": {"field": "pct", "type": "quantitative", "stack": "zero", "scale": {"domain": [0, 24], "nice": false}, "axis": {"values": [0, 2.5, 5, 7.5, 10, 12.5, 15, 17.5, 20, 22.5], "labelExpr": "datum.value % 5 === 0 ? format(datum.value, 'd') : ''", "labelPadding": 43, "domainColor": "black", "domainWidth": 10, "tickColor": "black", "tickWidth": 6, "tickSize": {"condition": {"test": "datum.value % 5 === 0", "value": -18}, "value": -8}, "grid": true, "gridColor": "#9a9a9a", "gridWidth": 2, "gridOpacity": {"condition": {"test": "datum.value % 5 === 0 && datum.value > 0", "value": 1}, "value": 0}, "title": "Population (%)", "titlePadding": 15}},
            "color": {"field": "part", "type": "nominal"},
            "order": {"field": "part", "type": "nominal", "sort": "descending"}
          }
        },
        {
          "transform": [{"filter": "isValid(datum.bio)"}],
          "mark": {"type": "line", "strokeWidth": 10},
          "encoding": {
            "x": {"field": "L", "type": "quantitative", "axis": {"orient": "top", "domain": true, "domainColor": "black", "domainWidth": 10, "ticks": false, "labels": false, "grid": false, "title": "D. maruadsi", "titleFontStyle": "italic", "titleX": -9, "titleY": -32, "titleAlign": "left", "titleBaseline": "alphabetic", "titleAngle": 0}},
            "y": {"field": "bio", "type": "quantitative", "scale": {"domain": [0, 26], "nice": false}, "axis": {"orient": "right", "values": [0, 2.5, 5, 7.5, 10, 12.5, 15, 17.5, 20, 22.5, 25], "labelExpr": "datum.value % 5 === 0 ? format(datum.value, 'd') : ''", "labelPadding": 39, "domainColor": "#808080", "domainWidth": 10, "tickColor": "#808080", "tickWidth": 6, "tickSize": {"condition": {"test": "datum.value % 5 === 0", "value": -16}, "value": -7}, "grid": false, "title": "Biomass (%)", "titleAngle": 270, "titleBaseline": "top", "titlePadding": 9}},
            "color": {"datum": "Mean biomass", "type": "nominal"}
          }
        },
        {
          "transform": [{"filter": "isValid(datum.bio)"}],
          "mark": {"type": "circle", "size": 1200, "opacity": 1},
          "encoding": {
            "x": {"field": "L", "type": "quantitative", "axis": {"orient": "top", "domain": false, "ticks": false, "labels": false, "grid": false, "title": ", III", "titleX": 291, "titleY": -32, "titleAlign": "left", "titleBaseline": "alphabetic", "titleAngle": 0}},
            "y": {"field": "bio", "type": "quantitative", "scale": {"domain": [0, 26], "nice": false}, "axis": null},
            "color": {"datum": "Mean biomass", "type": "nominal"}
          }
        },
        {
          "transform": [{"filter": "isValid(datum.F)"}],
          "mark": {"type": "line", "strokeWidth": 10},
          "encoding": {
            "x": {"field": "L", "type": "quantitative", "axis": {"orient": "top", "domain": false, "ticks": false, "labels": false, "grid": false, "title": "(E)", "titleX": 20, "titleY": 90, "titleAlign": "left", "titleBaseline": "alphabetic", "titleAngle": 0}},
            "y": {"field": "F", "type": "quantitative", "scale": {"domain": [0, 8], "nice": false}, "axis": {"orient": "right", "offset": 200, "values": [0, 1, 2, 3, 4, 5, 6, 7, 8], "labelExpr": "datum.value % 2 === 0 ? format(datum.value, 'd') : ''", "labelPadding": 45, "domainColor": "#ee0000", "domainWidth": 10, "tickColor": "#ee0000", "tickWidth": 6, "tickSize": {"condition": {"test": "datum.value % 2 === 0", "value": -22}, "value": -12}, "grid": false, "title": "Fishing mortality", "titleAngle": 270, "titleBaseline": "top", "titlePadding": 5}},
            "color": {"datum": "Fishing mortality", "type": "nominal"}
          }
        }
      ],
      "resolve": {"scale": {"y": "independent"}, "axis": {"x": "independent"}}
    },
    {
      "width": 1240, "height": 930,
      "transform": [{"filter": "datum.p === 'F'"}],
      "layer": [
        {
          "transform": [{"fold": ["Survivors", "Natural losses", "Catch"], "as": ["part", "pct"]}, {"filter": "isValid(datum.pct) && datum.pct > 0"}],
          "mark": {"type": "bar", "width": 59, "stroke": "black", "strokeWidth": 1.5},
          "encoding": {
            "x": {"field": "L", "type": "quantitative", "scale": {"domain": [1.5, 27], "nice": false, "zero": false}, "axis": {"values": [2.25, 3.75, 5.25, 6.75, 8.25, 9.75, 11.25, 12.75, 14.25, 15.75, 17.25, 18.75, 20.25, 21.75, 23.25, 24.75, 26.25], "labelExpr": "(datum.value - 0.75) % 3 === 0 ? format(datum.value, '.2f') : ''", "labelAngle": 270, "labelPadding": 37, "domainColor": "black", "domainWidth": 10, "tickColor": "black", "tickWidth": 8, "tickSize": -12, "tickOpacity": {"condition": {"test": "(datum.value - 0.75) % 3 === 0", "value": 0}, "value": 1}, "grid": true, "gridColor": "#9a9a9a", "gridWidth": 2, "gridOpacity": {"condition": {"test": "(datum.value - 0.75) % 3 === 0", "value": 1}, "value": 0}, "title": "Midlength (cm)", "titlePadding": 8}},
            "y": {"field": "pct", "type": "quantitative", "stack": "zero", "scale": {"domain": [0, 24], "nice": false}, "axis": {"values": [0, 2.5, 5, 7.5, 10, 12.5, 15, 17.5, 20, 22.5], "labelExpr": "datum.value % 5 === 0 ? format(datum.value, 'd') : ''", "labelPadding": 43, "domainColor": "black", "domainWidth": 10, "tickColor": "black", "tickWidth": 6, "tickSize": {"condition": {"test": "datum.value % 5 === 0", "value": -18}, "value": -8}, "grid": true, "gridColor": "#9a9a9a", "gridWidth": 2, "gridOpacity": {"condition": {"test": "datum.value % 5 === 0 && datum.value > 0", "value": 1}, "value": 0}, "title": "Population (%)", "titlePadding": 15}},
            "color": {"field": "part", "type": "nominal"},
            "order": {"field": "part", "type": "nominal", "sort": "descending"}
          }
        },
        {
          "transform": [{"filter": "isValid(datum.bio)"}],
          "mark": {"type": "line", "strokeWidth": 10},
          "encoding": {
            "x": {"field": "L", "type": "quantitative", "axis": {"orient": "top", "domain": true, "domainColor": "black", "domainWidth": 10, "ticks": false, "labels": false, "grid": false, "title": "T. japonicus", "titleFontStyle": "italic", "titleX": -5, "titleY": -32, "titleAlign": "left", "titleBaseline": "alphabetic", "titleAngle": 0}},
            "y": {"field": "bio", "type": "quantitative", "scale": {"domain": [0, 26], "nice": false}, "axis": {"orient": "right", "values": [0, 2.5, 5, 7.5, 10, 12.5, 15, 17.5, 20, 22.5, 25], "labelExpr": "datum.value % 5 === 0 ? format(datum.value, 'd') : ''", "labelPadding": 39, "domainColor": "#808080", "domainWidth": 10, "tickColor": "#808080", "tickWidth": 6, "tickSize": {"condition": {"test": "datum.value % 5 === 0", "value": -16}, "value": -7}, "grid": false, "title": "Biomass (%)", "titleAngle": 270, "titleBaseline": "top", "titlePadding": 9}},
            "color": {"datum": "Mean biomass", "type": "nominal"}
          }
        },
        {
          "transform": [{"filter": "isValid(datum.bio)"}],
          "mark": {"type": "circle", "size": 1200, "opacity": 1},
          "encoding": {
            "x": {"field": "L", "type": "quantitative", "axis": {"orient": "top", "domain": false, "ticks": false, "labels": false, "grid": false, "title": ", III", "titleX": 292, "titleY": -32, "titleAlign": "left", "titleBaseline": "alphabetic", "titleAngle": 0}},
            "y": {"field": "bio", "type": "quantitative", "scale": {"domain": [0, 26], "nice": false}, "axis": null},
            "color": {"datum": "Mean biomass", "type": "nominal"}
          }
        },
        {
          "transform": [{"filter": "isValid(datum.F)"}],
          "mark": {"type": "line", "strokeWidth": 10},
          "encoding": {
            "x": {"field": "L", "type": "quantitative", "axis": {"orient": "top", "domain": false, "ticks": false, "labels": false, "grid": false, "title": "(F)", "titleX": 22, "titleY": 90, "titleAlign": "left", "titleBaseline": "alphabetic", "titleAngle": 0}},
            "y": {"field": "F", "type": "quantitative", "scale": {"domain": [0, 8], "nice": false}, "axis": {"orient": "right", "offset": 200, "values": [0, 1, 2, 3, 4, 5, 6, 7, 8], "labelExpr": "datum.value % 2 === 0 ? format(datum.value, 'd') : ''", "labelPadding": 45, "domainColor": "#ee0000", "domainWidth": 10, "tickColor": "#ee0000", "tickWidth": 6, "tickSize": {"condition": {"test": "datum.value % 2 === 0", "value": -22}, "value": -12}, "grid": false, "title": "Fishing mortality", "titleAngle": 270, "titleBaseline": "top", "titlePadding": 5}},
            "color": {"datum": "Fishing mortality", "type": "nominal"}
          }
        }
      ],
      "resolve": {"scale": {"y": "independent"}, "axis": {"x": "independent"}}
    }
  ],
  "config": {
    "font": "Liberation Serif",
    "view": {"stroke": null},
    "axis": {"labelFont": "Liberation Serif", "titleFont": "Liberation Serif", "labelFontSize": 58, "titleFontSize": 60, "titleFontWeight": "normal", "labelColor": "black", "titleColor": "black", "labelOverlap": false, "labelFlush": false, "labelBound": false},
    "legend": {"orient": "none", "legendX": 361, "legendY": -220, "direction": "horizontal", "symbolSize": 20449, "symbolStrokeWidth": 2, "labelFont": "Liberation Serif", "labelFontSize": 60, "labelColor": "black", "labelLimit": 0, "labelOffset": 11, "columnPadding": 44, "padding": 0}
  }
}
